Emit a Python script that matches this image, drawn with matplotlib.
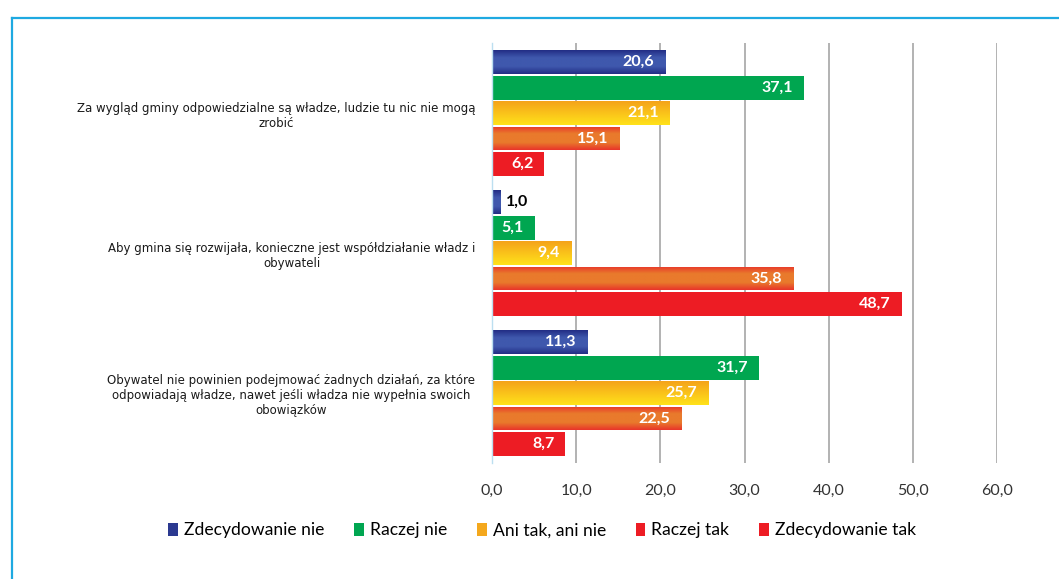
import numpy as np
import matplotlib
matplotlib.use("Agg")
import matplotlib.pyplot as plt
from matplotlib.colors import to_rgb
from matplotlib.lines import Line2D
from matplotlib.patches import Patch

# ── Data ──────────────────────────────────────────────────────────────────────
statements = [
    "Za wygląd gminy odpowiedzialne są władze, ludzie tu nic nie mogą\nzrobić",
    "Aby gmina się rozwijała, konieczne jest współdziałanie władz i\nobywateli",
    "Obywatel nie powinien podejmować żadnych działań, za które\nodpowiadają władze, nawet jeśli władza nie wypełnia swoich\nobowiązków",
]
answers = ["Zdecydowanie nie", "Raczej nie", "Ani tak, ani nie", "Raczej tak", "Zdecydowanie tak"]

zdecydowanie_nie = [20.6, 1.0, 11.3]
raczej_nie       = [37.1, 5.1, 31.7]
ani_tak_ani_nie  = [21.1, 9.4, 25.7]
raczej_tak       = [15.1, 35.8, 22.5]
zdecydowanie_tak = [6.2, 48.7, 8.7]

x_ticks = [0, 10, 20, 30, 40, 50, 60]

# ── Styles ────────────────────────────────────────────────────────────────────
# (edge colour, centre colour) for a vertical gradient per series
GRADIENTS = [
    ("#222d85", "#3f58ad"),   # blue
    ("#00a650", "#00a650"),   # green
    ("#f5a31a", "#ffe21a"),   # yellow
    ("#e8352a", "#e97a2c"),   # orange
    ("#ed1c24", "#ed1c24"),   # red
]
LEGEND_COLORS = ["#2b3990", "#00a651", "#f4a81d", "#ed1c24", "#ed1c24"]
FONT = ["Lato", "DejaVu Sans"]

plt.rcParams["font.family"] = FONT


def gradient_fill(ax, patch, edge, centre, top_to_bottom=False):
    x0, y0 = patch.get_x(), patch.get_y()
    w, h = patch.get_width(), patch.get_height()
    e, c = np.array(to_rgb(edge)), np.array(to_rgb(centre))
    t = np.linspace(0, 1, 64)
    if top_to_bottom:
        wgt = t
    else:
        wgt = 1 - np.abs(t - 0.5) * 2
        wgt = np.clip(wgt * 1.6, 0, 1)
    img = (e[None, :] * (1 - wgt[:, None]) + c[None, :] * wgt[:, None])[:, None, :]
    im = ax.imshow(img, extent=(x0, x0 + w, y0 + h, y0), aspect="auto",
                   origin="upper", zorder=2.5, interpolation="bilinear")
    im.set_clip_path(patch)


def fmt(v):
    return f"{v:.1f}".replace(".", ",")


# ── Figure ────────────────────────────────────────────────────────────────────
fig = plt.figure(figsize=(10.59, 5.79), dpi=100)
ax = fig.add_axes([0.4646, 0.2003, 0.4769, 0.7254])

series = [zdecydowanie_nie, raczej_nie, ani_tak_ani_nie, raczej_tak, zdecydowanie_tak]
n_ser = len(series)
slot = 1.0 / 5.5
bar_h = slot * 0.94
centres = np.arange(len(statements))

for s, vals in enumerate(series):
    offs = (s - (n_ser - 1) / 2) * slot
    bars = ax.barh(centres + offs, vals, height=bar_h, color=GRADIENTS[s][0],
                   zorder=2, linewidth=0)
    for b, v in zip(bars, vals):
        edge, centre = GRADIENTS[s]
        if edge != centre:
            gradient_fill(ax, b, edge, centre, top_to_bottom=(s == 2))
        yc = b.get_y() + b.get_height() / 2
        if v < 3:
            ax.text(v + 0.6, yc, fmt(v), ha="left", va="center", fontsize=11.5,
                    fontweight="bold", color="black", zorder=4)
        else:
            ax.text(v - 1.3, yc, fmt(v), ha="right", va="center", fontsize=11.5,
                    fontweight="bold", color="white", zorder=4)

ax.set_ylim(len(statements) - 0.5, -0.5)
ax.set_xlim(0, 60)
ax.set_xticks(x_ticks)
ax.set_xticklabels([fmt(v) for v in x_ticks], fontsize=11.5, color="#333333")
ax.set_yticks(centres)
ax.set_yticklabels(statements, fontsize=8.5, multialignment="center", color="#1a1a1a",
                   family=["DejaVu Sans"])
ax.tick_params(axis="both", length=0)
ax.tick_params(axis="x", pad=15)
ax.tick_params(axis="y", pad=12)
ax.xaxis.grid(True, color="#a6a6a6", lw=1.2, zorder=0)
ax.set_axisbelow(True)
for side in ["top", "right", "bottom"]:
    ax.spines[side].set_visible(False)
ax.spines["left"].set_color("#bcdff0")
ax.spines["left"].set_linewidth(1)

# ── Legend ────────────────────────────────────────────────────────────────────
handles = [Patch(facecolor=c, edgecolor="none") for c in LEGEND_COLORS]
fig.legend(handles, answers, loc="center", bbox_to_anchor=(0.512, 0.084), ncol=5,
           frameon=False, fontsize=12.6, handlelength=0.55, handleheight=0.8,
           handletextpad=0.35, columnspacing=1.7)

# ── Blue frame (top and left) ─────────────────────────────────────────────────
fig.add_artist(Line2D([12 / 1059, 1.0], [1 - 18 / 579] * 2, color="#1ea9e1", lw=1.6,
                      transform=fig.transFigure))
fig.add_artist(Line2D([12 / 1059] * 2, [0.0, 1 - 18 / 579], color="#1ea9e1", lw=1.6,
                      transform=fig.transFigure))

fig.savefig("out.png", dpi=100)
